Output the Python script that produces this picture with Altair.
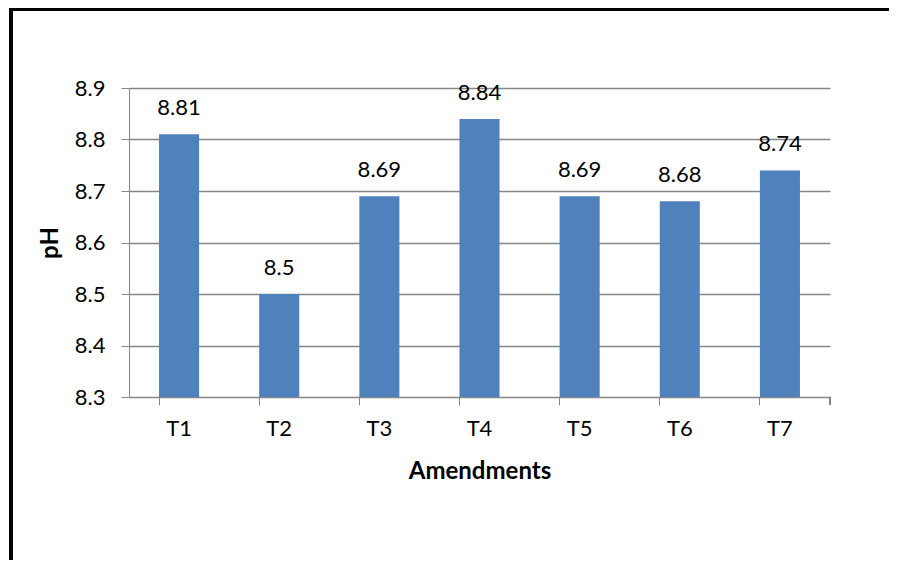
import altair as alt
import pandas as pd

categories = ["T1", "T2", "T3", "T4", "T5", "T6", "T7"]
ph_values = [8.81, 8.5, 8.69, 8.84, 8.69, 8.68, 8.74]
y_ticks = [8.3, 8.4, 8.5, 8.6, 8.7, 8.8, 8.9]

df = pd.DataFrame({"Amendments": categories, "pH": ph_values})

FONT = "Lato"
W, H = 701, 309

xenc = alt.X("Amendments:N", sort=categories,
             scale=alt.Scale(paddingInner=0.6, paddingOuter=0.3),
             axis=alt.Axis(title="Amendments", labelAngle=0, bandPosition=0,
                           tickSize=8, tickColor="#868686", domainColor="#868686",
                           labelPadding=13, titlePadding=20, labelFontSize=22,
                           titleFontSize=24, titleFontWeight="bold",
                           labelFont=FONT, titleFont=FONT, labelColor="black",
                           titleColor="black", grid=False))
yscale = alt.Scale(domain=[8.3, 8.9], zero=False, nice=False)
yenc = alt.Y("pH:Q", scale=yscale,
             axis=alt.Axis(title="pH", values=y_ticks, format=".1f",
                           tickSize=8, tickColor="#868686", domainColor="#868686",
                           gridColor="#868686", gridWidth=1.3,
                           labelPadding=16, titlePadding=12, labelFontSize=22,
                           titleFontSize=24, titleFontWeight="bold",
                           labelFont=FONT, titleFont=FONT, labelColor="black",
                           titleColor="black"))

base = alt.Chart(df)
bars = base.mark_bar(color="#4F81BD").encode(
    x=xenc, y=yenc, y2=alt.datum(8.3))
labels = base.mark_text(dy=-19, baseline="alphabetic", fontSize=22, font=FONT,
                        color="black").encode(
    x=alt.X("Amendments:N", sort=categories), y=alt.Y("pH:Q", scale=yscale),
    text=alt.Text("pH:Q"))

end_tick = alt.Chart(df).mark_rule(color="#868686").encode(
    x=alt.value(W), y=alt.value(H), y2=alt.value(H + 8))
left_border = alt.Chart(df).mark_rule(color="black", strokeWidth=4).encode(
    x=alt.value(-118), y=alt.value(-82), y2=alt.value(480))
top_border = alt.Chart(df).mark_rule(color="black", strokeWidth=4).encode(
    x=alt.value(-120), x2=alt.value(W + 70), y=alt.value(-79.5))

chart = alt.layer(bars, labels, end_tick, left_border, top_border).properties(
    width=W, height=H,
    autosize=alt.AutoSizeParams(type="none"),
    padding={"left": 121, "top": 80, "right": 59, "bottom": 163},
    background="white",
).configure_view(stroke=None)

chart.save("out.html", embed_options={"renderer": "svg", "actions": False})
